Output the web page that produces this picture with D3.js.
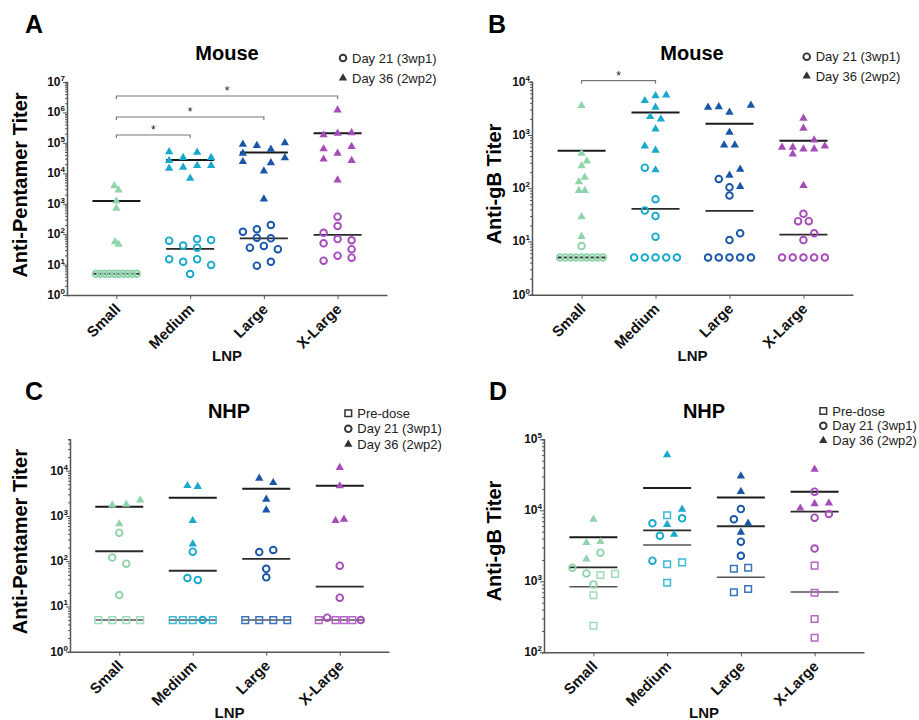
<!DOCTYPE html>
<html><head><meta charset="utf-8">
<script src="https://cdn.jsdelivr.net/npm/d3@7"></script>
<style>
body{margin:0;background:#fff}
svg{display:block;font-family:"Liberation Sans",Arial,Helvetica,sans-serif}
</style>
</head><body>
<svg id="chart" width="919" height="720"></svg>
<script>
// ---------------- DATA ----------------
const categories = ["Small", "Medium", "Large", "X-Large"];
const seriesNames = { pre: "Pre-dose", d21: "Day 21 (3wp1)", d36: "Day 36 (2wp2)" };

// Panel A – Mouse, Anti-Pentamer titer
const mousePentamerDay21 = [[5,5,5,5,5,5,5,5,5,5],[61,42,69,64,36,15,12.4,15,9.7,4.9],[120,145,200,76,73,36,41,32,9.2,12.4],[375,185,111,69,63,50,32,19.6,13.4,16.9]];
const mousePentamerDay21Slot = [[-1.46,-1.14,-0.81,-0.49,-0.16,0.16,0.49,0.81,1.14,1.46],[-1.5,-0.5,0.5,1.5,0.5,-1.5,-0.5,0.5,1.5,0],[-1.5,-0.5,0.5,-0.5,0.5,-1,0,1,-0.5,0.5],[0,0,-1,0,1,-1,1,0,-1,1]];
const mousePentamerDay21Line = [5,33,73,94];
const mousePentamerDay36 = [[3900,2800,1230,710,56,46],[51000,49000,33000,33000,26000,15800,18000,18000,14500,6800],[89000,81000,61000,101000,45000,32000,24000,22000,11900,1430],[1200000,182000,205000,215000,63000,75000,45000,29000,26000,6000]];
const mousePentamerDay36Slot = [[-0.15,0.15,0,0,-0.1,0.15],[-1.5,0.5,-0.5,1.5,-1.5,-0.5,0.5,1.5,-1.5,0],[-1.5,-0.5,0.5,1.5,-1.5,1.5,-1.5,0.5,0,0],[0,-1,0,1,-1,1,0,-1,1,0]];
const mousePentamerDay36Line = [1230,27500,48000,205000];
const mousePentamerSig = [["Small","Medium"],["Small","Large"],["Small","X-Large"]];

// Panel B – Mouse, Anti-gB titer
const mouseGBDay21 = [[8.2,5,5,5,5,5,5,5,5,5],[243,62,38,30,12.3,5,5,5,5,5],[149,104,73,10.6,14.2,5,5,5,5,5],[33,24,24,14.2,10.6,5,5,5,5,5]];
const mouseGBDay21Slot = [[0,-2,-1.5,-1,-0.5,0,0.5,1,1.5,2],[-1,0,-1,0,0,-2,-1,0,1,2],[-1,0,0,0,1,-2,-1,0,1,2],[0,-0.5,0.5,1,0,-2,-1,0,1,2]];
const mouseGBDay21Line = [5,41,37.5,13.4];
const mouseGBDay36 = [[3540,452,324,262,160,132,90,90,29,12.3],[4400,5450,5600,3300,2200,1990,1290,620,515,220],[3300,3380,2660,3600,1120,645,645,226,174,107],[2050,1330,800,585,585,545,545,620,436,112]];
const mouseGBDay36Slot = [[0,0,0.5,0,0.3,-0.25,-0.25,0.3,0,0],[-1,0,1,0,-0.5,0.5,0,-1,0,0],[-2,-1,0,2,0,-0.5,0.5,1,0,1],[0,0,1,-2,-1,0,1,2,-1,0]];
const mouseGBDay36Line = [505,2630,1620,780];
const mouseGBSig = [["Small","Medium"]];

// Panel C – NHP, Anti-Pentamer titer
const nhpPentamerPre = [[5,5,5,5],[5,5,5,5],[5,5,5,5],[5,5,5,5]];
const nhpPentamerPreSlot = [[-1.5,-0.5,0.5,1.5],[-1.43,-0.71,0,1.43],[-1.5,-0.5,0.5,1.5],[-1.5,-0.3,0.3,0.9]];
const nhpPentamerPreLine = [5,5,5,5];
const nhpPentamerDay21 = [[426,120,88,17.9],[162,42.5,38.5,5],[159,177,68,44],[79.5,15.6,5.65,5]];
const nhpPentamerDay21Slot = [[0,-0.5,0.5,0],[0,-0.38,0.36,0.71],[-0.5,0.5,0,0],[0,0,-0.9,1.5]];
const nhpPentamerDay21Line = [166,61.5,112,27.3];
const nhpPentamerDay36 = [[1740,1810,2240,665],[4660,4450,785,240],[6780,5430,2330,1350],[11700,4600,785,842]];
const nhpPentamerDay36Slot = [[-0.5,0.5,1.5,0],[-0.38,0.36,0,0],[-0.5,0.5,0,0],[0,0,-0.3,0.3]];
const nhpPentamerDay36Line = [1600,2530,3990,4660];

// Panel D – NHP, Anti-gB titer
const nhpGBPre = [[1228,1270,635,237],[8510,1740,1850,955],[1505,1550,700,778],[1660,690,295,160]];
const nhpGBPreSlot = [[0.5,1.55,0,0],[0,0,1.07,0],[-0.5,0.52,-0.5,0.52],[0,0,0,0]];
const nhpGBPreLine = [840,3240,1140,706];
const nhpGBDay21 = [[2530,1550,1290,905],[6560,7710,4380,1950],[10400,7460,3610,2290],[18300,7870,8870,2890]];
const nhpGBDay21Slot = [[0.5,-1.5,-0.5,0],[-1.05,1.07,-0.52,-1.05],[0,-0.5,0,0],[0,0,1.02,0]];
const nhpGBDay21Line = [1575,5230,5960,9550];
const nhpGBDay36 = [[7460,3500,3610,2060],[60500,10300,6310,4570],[30400,18300,6560,4900],[37700,10700,12300,12600]];
const nhpGBDay36Slot = [[0,-0.5,0.5,-0.5],[0,1.07,0,0.5],[0,0,0.52,0],[0,-1.02,0,1.02]];
const nhpGBDay36Line = [4180,20600,15200,18300];

// ---------------- STYLE / LAYOUT ----------------
const catColors = ["#8fd4ab", "#19a9cd", "#1a56a8", "#a54cb9"];
const catColorsLight = ["#9edcb8", "#3fb8d8", "#3a74c0", "#b466c6"];
const axisColor = "#555";
const svg = d3.select("#chart");

const panels = [
  { letter:"A", lx:25, ly:33, title:"Mouse", tx:227, ty:53, yTitle:"Anti-Pentamer Titer", ytx:20, yty:185,
    x0:67, x1:387, yTop:82, yBottom:295, domain:[1,1e7], unit:14, lnpY:361,
    legend:{x:343, y:58, dy:20, keys:["d21","d36"]},
    sig: mousePentamerSig, sigY:[135,117,96],
    series:[
      {key:"d21", values:mousePentamerDay21, slots:mousePentamerDay21Slot, line:mousePentamerDay21Line},
      {key:"d36", values:mousePentamerDay36, slots:mousePentamerDay36Slot, line:mousePentamerDay36Line}
    ]},
  { letter:"B", lx:488, ly:33, title:"Mouse", tx:692, ty:53, yTitle:"Anti-gB Titer", ytx:494, yty:184,
    x0:532, x1:853, yTop:81.7, yBottom:294.7, domain:[1,1e4], unit:10.7, lnpY:361,
    legend:{x:806.7, y:56.7, dy:19.3, keys:["d21","d36"]},
    sig: mouseGBSig, sigY:[80.7],
    series:[
      {key:"d21", values:mouseGBDay21, slots:mouseGBDay21Slot, line:mouseGBDay21Line},
      {key:"d36", values:mouseGBDay36, slots:mouseGBDay36Slot, line:mouseGBDay36Line}
    ]},
  { letter:"C", lx:25, ly:400, title:"NHP", tx:229, ty:410.7, yTitle:"Anti-Pentamer Titer", ytx:20, yty:541.7,
    x0:70, x1:389, yTop:439.3, yBottom:651.7, domain:[1,49400], unit:14, lnpY:718,
    legend:{x:348.3, y:413.3, dy:15.5, keys:["pre","d21","d36"]},
    sig: [], sigY:[],
    series:[
      {key:"pre", values:nhpPentamerPre, slots:nhpPentamerPreSlot, line:nhpPentamerPreLine},
      {key:"d21", values:nhpPentamerDay21, slots:nhpPentamerDay21Slot, line:nhpPentamerDay21Line},
      {key:"d36", values:nhpPentamerDay36, slots:nhpPentamerDay36Slot, line:nhpPentamerDay36Line}
    ]},
  { letter:"D", lx:489, ly:400, title:"NHP", tx:704, ty:410.7, yTitle:"Anti-gB Titer", ytx:494, yty:541,
    x0:544, x1:864, yTop:439.3, yBottom:652.3, domain:[100,1e5], unit:14, lnpY:718,
    legend:{x:823.3, y:411, dy:14.8, keys:["pre","d21","d36"]},
    sig: [], sigY:[],
    series:[
      {key:"pre", values:nhpGBPre, slots:nhpGBPreSlot, line:nhpGBPreLine},
      {key:"d21", values:nhpGBDay21, slots:nhpGBDay21Slot, line:nhpGBDay21Line},
      {key:"d36", values:nhpGBDay36, slots:nhpGBDay36Slot, line:nhpGBDay36Line}
    ]}
];

const triPath = d3.symbol().type(d3.symbolTriangle).size(30)();
const sqPath = d3.symbol().type(d3.symbolSquare).size(44)();
const lineStyle = { d36:{c:"#1a1a1a", w:2}, d21:{c:"#2a2a2a", w:1.8}, pre:{c:"#555", w:1.5} };

function drawMarker(sel, key, color, cx, cy) {
  if (key === "d21") {
    sel.append("circle").attr("cx", cx).attr("cy", cy).attr("r", 3.3)
      .attr("fill", "none").attr("stroke", color).attr("stroke-width", 1.9);
  } else if (key === "d36") {
    sel.append("path").attr("d", triPath).attr("transform", `translate(${cx},${cy})`)
      .attr("fill", color);
  } else {
    sel.append("path").attr("d", sqPath).attr("transform", `translate(${cx},${cy})`)
      .attr("fill", "none").attr("stroke", color).attr("stroke-width", 1.5);
  }
}

panels.forEach(p => {
  const g = svg.append("g");
  const y = d3.scaleLog().domain(p.domain).range([p.yBottom, p.yTop]);
  const x = d3.scalePoint().domain(categories).range([p.x0, p.x1]).padding(0.67);
  const jit = d3.scaleLinear().domain([0, 1]).range([0, p.unit]);

  // y axis
  const lo = Math.log10(p.domain[0]), hi = Math.log10(p.domain[1]);
  const majors = d3.range(Math.ceil(lo - 1e-9), Math.floor(hi + 1e-9) + 1).map(e => Math.pow(10, e));
  const majorSet = new Set(majors);
  const minors = [];
  for (let e = Math.floor(lo); e <= Math.ceil(hi); e++)
    for (let k = 2; k <= 9; k++) { const v = k * Math.pow(10, e); if (v >= p.domain[0] && v <= p.domain[1]) minors.push(v); }
  const ya = g.append("g").attr("transform", `translate(${p.x0},0)`)
    .call(d3.axisLeft(y).tickValues(majors.concat(minors)).tickFormat("").tickSizeOuter(0).tickSize(2));
  ya.select(".domain").attr("stroke", axisColor).attr("stroke-width", 1.5);
  ya.selectAll(".tick line").attr("stroke", axisColor).attr("stroke-width", 1)
    .attr("x2", d => majorSet.has(d) ? -4 : -2);
  ya.selectAll(".tick text").remove();
  majors.forEach(v => {
    const t = g.append("text").attr("x", p.x0 - 2).attr("y", y(v) + 4)
      .attr("text-anchor", "end").attr("font-weight", "bold").attr("font-size", 12).attr("fill", "#111");
    t.append("tspan").text("10");
    t.append("tspan").attr("dy", -5).attr("font-size", 8).text(String(Math.round(Math.log10(v))));
  });

  // x axis
  const xa = g.append("g").attr("transform", `translate(0,${p.yBottom})`)
    .call(d3.axisBottom(x).tickSize(4).tickSizeOuter(0).tickFormat(""));
  xa.select(".domain").attr("stroke", axisColor).attr("stroke-width", 1.5);
  xa.selectAll(".tick line").attr("stroke", axisColor);
  xa.selectAll(".tick text").remove();
  categories.forEach(c => {
    g.append("text").attr("transform", `translate(${x(c) + 5},${p.yBottom + 15}) rotate(-45)`)
      .attr("text-anchor", "end").attr("font-weight", "bold").attr("font-size", 15).attr("fill", "#111").text(c);
  });
  g.append("text").attr("x", (p.x0 + p.x1) / 2).attr("y", p.lnpY).attr("text-anchor", "middle")
    .attr("font-weight", "bold").attr("font-size", 15).attr("fill", "#111").text("LNP");

  // titles
  g.append("text").attr("x", p.lx).attr("y", p.ly).attr("font-weight", "bold").attr("font-size", 25).attr("fill", "#000").text(p.letter);
  g.append("text").attr("x", p.tx).attr("y", p.ty).attr("dy", "0.35em").attr("text-anchor", "middle")
    .attr("font-weight", "bold").attr("font-size", 20).attr("fill", "#000").text(p.title);
  g.append("text").attr("transform", `translate(${p.ytx},${p.yty}) rotate(-90)`).attr("dy", "0.35em")
    .attr("text-anchor", "middle").attr("font-weight", "bold").attr("font-size", 20).attr("fill", "#000").text(p.yTitle);

  // median / mean lines
  p.series.forEach(s => {
    const st = lineStyle[s.key];
    categories.forEach((c, i) => {
      g.append("line").attr("x1", x(c) - 24).attr("x2", x(c) + 24)
        .attr("y1", y(s.line[i])).attr("y2", y(s.line[i]))
        .attr("stroke", st.c).attr("stroke-width", st.w);
    });
  });

  // points
  p.series.forEach(s => {
    categories.forEach((c, i) => {
      const col = s.key === "pre" ? catColorsLight[i] : catColors[i];
      s.values[i].forEach((v, k) => {
        drawMarker(g, s.key, col, x(c) + jit(s.slots[i][k]), y(v));
      });
    });
  });

  // significance brackets
  p.sig.forEach((pair, k) => {
    const xa1 = x(pair[0]), xb1 = x(pair[1]), by = p.sigY[k];
    g.append("path").attr("d", `M${xa1},${by + 3}V${by}H${xb1}V${by + 3}`)
      .attr("fill", "none").attr("stroke", "#777").attr("stroke-width", 1.2);
    g.append("text").attr("x", (xa1 + xb1) / 2).attr("y", by - 1).attr("text-anchor", "middle")
      .attr("font-size", 12).attr("fill", "#222").text("*");
  });

  // legend
  p.legend.keys.forEach((key, k) => {
    const ly = p.legend.y + k * p.legend.dy;
    drawMarker(g, key, "#333", p.legend.x, ly);
    g.append("text").attr("x", p.legend.x + 9).attr("y", ly + 4.5).attr("font-size", 13).attr("fill", "#222").text(seriesNames[key]);
  });
});
</script>
</body></html>
